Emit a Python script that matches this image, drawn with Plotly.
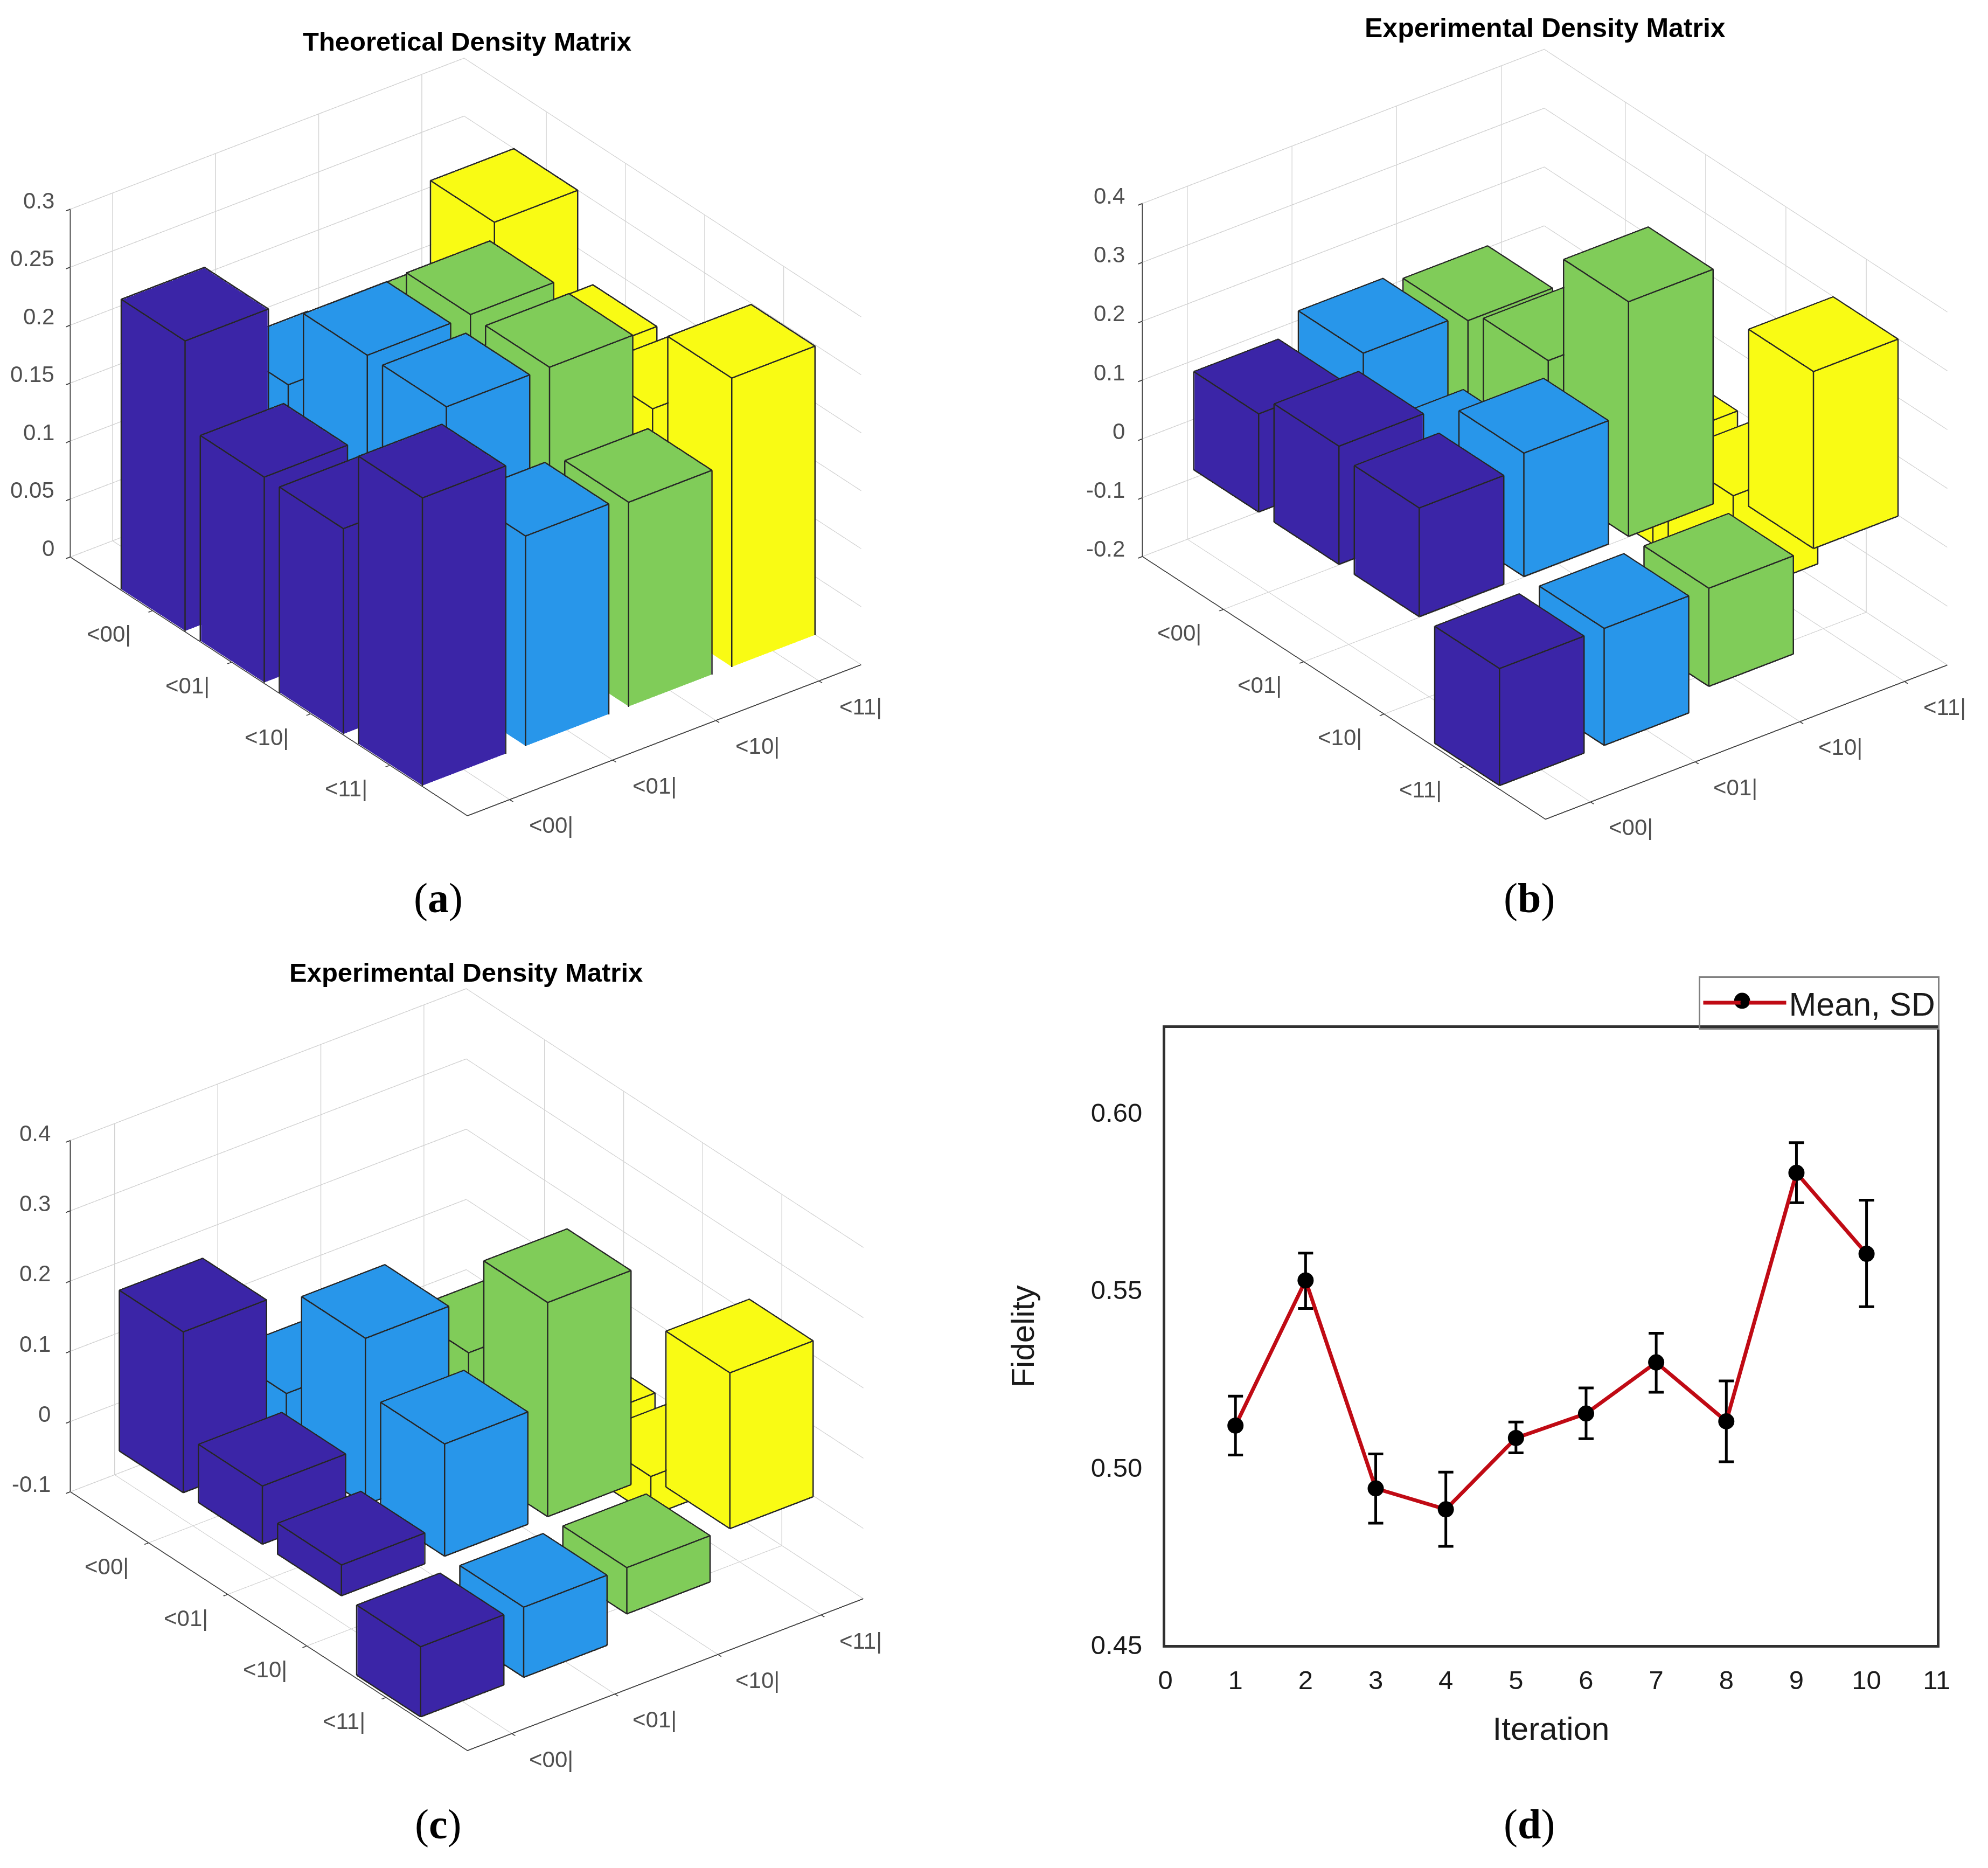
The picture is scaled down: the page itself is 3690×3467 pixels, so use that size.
import math
import plotly.graph_objects as go

W, H = 3690, 3467

# ---------- data ----------
BRAS = ["<00|", "<01|", "<10|", "<11|"]
COLORS = ["#3B25A7", "#2896EA", "#80CC59", "#F9FB14"]

RHO_THEORY = [
    [0.250, 0.178, 0.177, 0.250],
    [0.177, 0.248, 0.249, 0.177],
    [0.177, 0.248, 0.248, 0.178],
    [0.248, 0.181, 0.176, 0.249],
]
RHO_EXP_B = [
    [0.166, 0.201, 0.188, -0.170],
    [0.200, 0.101, 0.209, -0.170],
    [0.184, 0.209, 0.398, -0.170],
    [-0.198, -0.198, -0.166, 0.300],
]
RHO_EXP_C = [
    [0.228, 0.084, 0.074, -0.050],
    [0.082, 0.236, 0.159, -0.050],
    [0.043, 0.159, 0.304, -0.055],
    [-0.099, -0.099, -0.065, 0.221],
]
Z_TICKS_A = [0, 0.05, 0.1, 0.15, 0.2, 0.25, 0.3]
Z_TICKS_B = [-0.2, -0.1, 0, 0.1, 0.2, 0.3, 0.4]
Z_TICKS_C = [-0.1, 0, 0.1, 0.2, 0.3, 0.4]

ITERATION = [1, 2, 3, 4, 5, 6, 7, 8, 9, 10]
FIDELITY = [0.5118, 0.5527, 0.4941, 0.4882, 0.5083, 0.5152, 0.5296, 0.5130, 0.5830, 0.5602]
ERR_UP = [0.0083, 0.0077, 0.0097, 0.0105, 0.0045, 0.0072, 0.0082, 0.0114, 0.0085, 0.0151]
ERR_DOWN = [0.0083, 0.0079, 0.0098, 0.0104, 0.0042, 0.0071, 0.0084, 0.0114, 0.0084, 0.0149]

# ---------- view / layout settings ----------
AZ = math.radians(52.5)
EL = math.radians(30)
EYE_R = 2.2
HALF = 800
BAR_HALF = 0.4
EDGE = "#262626"


def row_y(r):
    # row r is drawn at y = 5 - r, so the row axis runs towards the viewer
    return 5 - r


def bar_traces(matrix, scene):
    traces = []
    for c in range(4):
        xs, ys, zs, i, j, k = [], [], [], [], [], []
        ex, ey, ez = [], [], []
        for r in range(4):
            v = matrix[r][c]
            x0, x1 = c + 1 - BAR_HALF, c + 1 + BAR_HALF
            y0, y1 = row_y(r + 1) - BAR_HALF, row_y(r + 1) + BAR_HALF
            z0, z1 = min(0, v), max(0, v)
            n = len(xs)
            for zz in (z0, z1):
                xs += [x0, x1, x1, x0]
                ys += [y0, y0, y1, y1]
                zs += [zz] * 4
            quads = [(0, 1, 2, 3), (4, 5, 6, 7), (0, 1, 5, 4), (1, 2, 6, 5), (2, 3, 7, 6), (3, 0, 4, 7)]
            for a, b, cc, d in quads:
                i += [n + a, n + a]
                j += [n + b, n + cc]
                k += [n + cc, n + d]
            eps = 0.004
            ezs = 0.0004
            xa, xb, ya, yb = x0 - eps, x1 + eps, y0 - eps, y1 + eps
            za, zb = z0 - ezs, z1 + ezs
            for zz in (za, zb):
                ex += [xa, xb, xb, xa, xa, None]
                ey += [ya, ya, yb, yb, ya, None]
                ez += [zz, zz, zz, zz, zz, None]
            for px, py in ((xa, ya), (xb, ya), (xb, yb), (xa, yb)):
                ex += [px, px, None]
                ey += [py, py, None]
                ez += [za, zb, None]
        traces.append(go.Mesh3d(
            x=xs, y=ys, z=zs, i=i, j=j, k=k, color=COLORS[c], flatshading=True,
            lighting=dict(ambient=1, diffuse=0, specular=0, fresnel=0, roughness=1),
            hoverinfo="skip", showscale=False, scene=scene, showlegend=False))
        traces.append(go.Scatter3d(
            x=ex, y=ey, z=ez, mode="lines", line=dict(color=EDGE, width=5),
            hoverinfo="skip", scene=scene, showlegend=False))
    return traces


def zfmt(v):
    return ("%g" % v)


def scene_layout(cx, cy, zticks, xr, yr, scale, zf=1.0, row_dx=-71, col_dx=71, z_dx=-28, z_dy=14):
    zr = [zticks[0], zticks[-1]]
    ax = dict(
        showbackground=False, showgrid=True, gridcolor="#D2D2D2", gridwidth=3,
        zeroline=False, showline=True, linecolor="#404040", linewidth=4,
        ticks="outside", ticklen=10, tickcolor="#404040", tickwidth=4,
        showticklabels=False, showspikes=False, title=dict(text=""),
    )
    ann = []
    tickfont = dict(family="Liberation Sans, Arial, sans-serif", size=42, color="#505050")
    for n, lab in enumerate(BRAS):
        ann.append(dict(x=xr[0], y=row_y(n + 1), z=zr[0], text=lab, showarrow=False,
                        xanchor="center", yanchor="middle", xshift=row_dx, yshift=-44, font=tickfont))
        ann.append(dict(x=n + 1, y=yr[0], z=zr[0], text=lab, showarrow=False,
                        xanchor="center", yanchor="middle", xshift=col_dx, yshift=-48, font=tickfont))
    for t in zticks:
        ann.append(dict(x=xr[0], y=yr[1], z=t, text=zfmt(t), showarrow=False,
                        xanchor="right", yanchor="middle", xshift=z_dx, yshift=z_dy, font=tickfont))
    return dict(
        domain=dict(x=[(cx - HALF) / W, (cx + HALF) / W],
                    y=[1 - (cy + HALF) / H, 1 - (cy - HALF) / H]),
        xaxis=dict(ax, range=xr, tickvals=[1, 2, 3, 4]),
        yaxis=dict(ax, range=yr, tickvals=[row_y(r) for r in (4, 3, 2, 1)]),
        zaxis=dict(ax, range=zr, tickvals=zticks),
        aspectmode="manual",
        aspectratio=dict(x=scale * (xr[1] - xr[0]) / 5.02, y=scale, z=scale * zf * 3.09 / 5.02),
        camera=dict(
            projection=dict(type="orthographic"),
            up=dict(x=0, y=0, z=1), center=dict(x=0, y=0, z=0),
            eye=dict(x=-math.cos(AZ) * math.cos(EL) * EYE_R,
                     y=-math.sin(AZ) * math.cos(EL) * EYE_R,
                     z=math.sin(EL) * EYE_R)),
        annotations=ann,
    )


fig = go.Figure()
for t in bar_traces(RHO_THEORY, "scene"):
    fig.add_trace(t)
for t in bar_traces(RHO_EXP_B, "scene2"):
    fig.add_trace(t)
for t in bar_traces(RHO_EXP_C, "scene3"):
    fig.add_trace(t)

fig.add_trace(go.Scatter(
    x=ITERATION, y=FIDELITY, mode="lines+markers", name="Mean, SD",
    line=dict(color="#C00A14", width=7), marker=dict(color="black", size=30),
    error_y=dict(type="data", symmetric=False, array=ERR_UP, arrayminus=ERR_DOWN,
                 color="black", thickness=5, width=14),
    xaxis="x", yaxis="y", showlegend=True))


def pa(px, py, text, size, family="Liberation Sans, Arial, sans-serif", color="black"):
    return dict(xref="paper", yref="paper", x=px / W, y=1 - py / H, text=text, showarrow=False,
                xanchor="center", yanchor="middle", font=dict(family=family, size=size, color=color))


SERIF = "Liberation Serif, Times New Roman, serif"
annotations = [
    pa(862, 78, "<b>Theoretical Density Matrix</b>", 49),
    pa(2884, 52, "<b>Experimental Density Matrix</b>", 50),
    pa(860, 1819, "<b>Experimental Density Matrix</b>", 49),
    pa(808, 1680, "(<b>a</b>)", 78, family=SERIF),
    pa(2855, 1680, "(<b>b</b>)", 78, family=SERIF),
    pa(808, 3412, "(<b>c</b>)", 78, family=SERIF),
    pa(2855, 3412, "(<b>d</b>)", 78, family=SERIF),
]

SANS = "Liberation Sans, Arial, sans-serif"
fig.update_layout(
    width=W, height=H, margin=dict(l=0, r=0, t=0, b=0),
    paper_bgcolor="white", plot_bgcolor="white",
    scene=scene_layout(860, 817, Z_TICKS_A, [0.59, 4.41], [0.02, 5.04], 1.525,
                       row_dx=-82, col_dx=77, z_dx=-28, z_dy=16),
    scene2=scene_layout(2884, 812, Z_TICKS_B, [0.57, 4.41], [-0.01, 5.01], 1.548,
                        row_dx=-82, col_dx=75, z_dx=-30),
    scene3=scene_layout(862, 2562, Z_TICKS_C, [0.57, 4.41], [-0.03, 4.99], 1.525, zf=1.01,
                        row_dx=-78, col_dx=73, z_dx=-35),
    xaxis=dict(domain=[2172 / W, 3619 / W], range=[0, 11], tickvals=list(range(12)),
               showgrid=False, zeroline=False, showline=True, linecolor="#303030", linewidth=5,
               mirror=True, ticks="outside", ticklen=18, tickcolor="rgba(0,0,0,0)",
               tickfont=dict(family=SANS, size=49, color="#1a1a1a"),
               title=dict(text="Iteration", font=dict(family=SANS, size=60, color="#1a1a1a"), standoff=45),
               anchor="y"),
    yaxis=dict(domain=[1 - 3077 / H, 1 - 1923 / H], range=[0.45, 0.6238],
               tickvals=[0.45, 0.50, 0.55, 0.60], ticktext=["0.45", "0.50", "0.55", "0.60"],
               showgrid=False, zeroline=False, showline=True, linecolor="#303030", linewidth=5,
               mirror=True, ticks="outside", ticklen=28, tickcolor="rgba(0,0,0,0)",
               tickfont=dict(family=SANS, size=49, color="#1a1a1a"),
               title=dict(text="Fidelity", font=dict(family=SANS, size=60, color="#1a1a1a"), standoff=87),
               anchor="x"),
    legend=dict(x=3173 / W, y=1 - 1826 / H, xanchor="left", yanchor="top",
                bordercolor="#808080", borderwidth=3, bgcolor="rgba(255,255,255,0)",
                font=dict(family=SANS, size=61, color="#1a1a1a"), itemwidth=154),
    annotations=annotations,
    shapes=[dict(type="circle", xref="paper", yref="paper", fillcolor="black", line=dict(width=0),
                 x0=(3254 - 15) / W, x1=(3254 + 15) / W,
                 y0=1 - (1872 + 15) / H, y1=1 - (1872 - 15) / H)],
    showlegend=True,
)

fig.write_html("out.html", config=dict(plotGlPixelRatio=1, displayModeBar=False),
               post_script="document.body.style.margin='0';")
